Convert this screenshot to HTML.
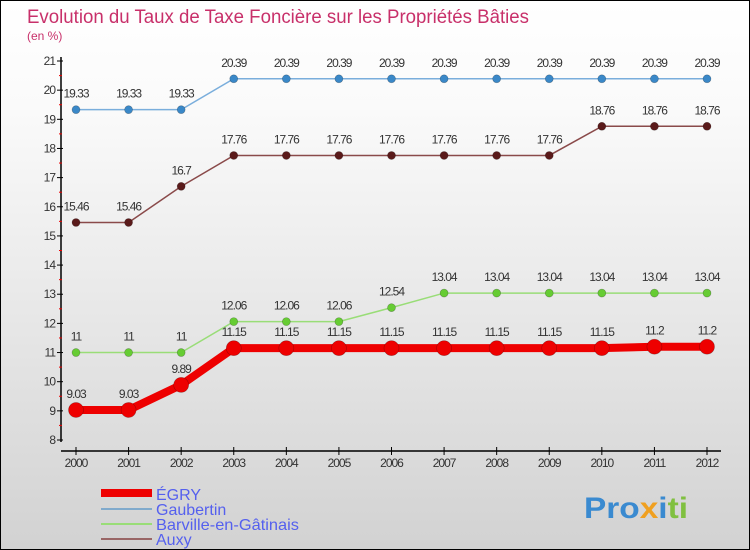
<!DOCTYPE html>
<html><head><meta charset="utf-8"><style>
body{margin:0}
#c{position:relative;width:748px;height:548px;border:1px solid #000;background:linear-gradient(#fff,#fafafa 20%,#d2d2d2);font-family:"Liberation Sans",sans-serif;overflow:hidden}
svg{position:absolute;left:0;top:0}
</style></head><body>
<div id="c">
<svg width="748" height="548" id="s">
<text x="26" y="22" font-size="19" fill="#c8306a" textLength="502" lengthAdjust="spacingAndGlyphs">Evolution du Taux de Taxe Foncière sur les Propriétés Bâties</text>
<text x="26" y="39" font-size="12" fill="#c8306a">(en %)</text>
<g id="ax"></g><g id="ser"></g>
<g>
<line x1="100" y1="492" x2="151" y2="492" stroke="#e00" stroke-width="8"/>
<text x="155" y="499" font-size="16" fill="#5560ee">ÉGRY</text>
<line x1="100" y1="508" x2="151" y2="508" stroke="#80aacc" stroke-width="2"/>
<text x="155" y="514" font-size="16" fill="#5560ee">Gaubertin</text>
<line x1="100" y1="523" x2="151" y2="523" stroke="#99dd77" stroke-width="2"/>
<text x="155" y="529" font-size="16" fill="#5560ee" textLength="143" lengthAdjust="spacingAndGlyphs">Barville-en-Gâtinais</text>
<line x1="100" y1="538" x2="151" y2="538" stroke="#996666" stroke-width="2"/>
<text x="155" y="544" font-size="16" fill="#5560ee">Auxy</text>
</g>
<text x="583" y="517" font-size="30" font-weight="bold" textLength="104" lengthAdjust="spacingAndGlyphs"><tspan fill="#3a8ad0">Pro</tspan><tspan fill="#f0a020">x</tspan><tspan fill="#3a8ad0">i</tspan><tspan fill="#80c040">ti</tspan></text>
</svg>
</div>
<script>
const years=[2000,2001,2002,2003,2004,2005,2006,2007,2008,2009,2010,2011,2012];
const egry=[9.03,9.03,9.89,11.15,11.15,11.15,11.15,11.15,11.15,11.15,11.15,11.2,11.2];
const gaubertin=[19.33,19.33,19.33,20.39,20.39,20.39,20.39,20.39,20.39,20.39,20.39,20.39,20.39];
const barville=[11,11,11,12.06,12.06,12.06,12.54,13.04,13.04,13.04,13.04,13.04,13.04];
const auxy=[15.46,15.46,16.7,17.76,17.76,17.76,17.76,17.76,17.76,17.76,18.76,18.76,18.76];
const yTicks=[8,9,10,11,12,13,14,15,16,17,18,19,20,21];
const NS="http://www.w3.org/2000/svg";
const X=i=>75+i*(706-75)/(years.length-1);
const Y=v=>439-(v-8)*(439-60)/13;
function mk(p,t,a){const e=document.createElementNS(NS,t);for(const k in a)e.setAttribute(k,a[k]);p.appendChild(e);return e;}
const ax=document.getElementById('ax'),ser=document.getElementById('ser');
let e=mk(ax,'line',{x1:60,y1:56,x2:60,y2:441,stroke:'#000','stroke-width':1.5});


e=mk(ax,'line',{x1:60,y1:450,x2:720,y2:450,stroke:'#000','stroke-width':1.5});


yTicks.forEach(v=>{
 mk(ax,'line',{x1:56,y1:Y(v),x2:62,y2:Y(v),stroke:'#000'});
 if(v<21)mk(ax,'line',{x1:58,y1:Y(v+0.5),x2:61,y2:Y(v+0.5),stroke:'#e00'});
 const t=mk(ax,'text',{x:54,y:Y(v)+4,'font-size':12,'text-anchor':'end',fill:'#333','letter-spacing':'-1'});
 t.textContent=v;
 
 
});
years.forEach((y,i)=>{
 mk(ax,'line',{x1:X(i),y1:446,x2:X(i),y2:454,stroke:'#000'});
 const t=mk(ax,'text',{x:X(i),y:466,'font-size':12,'text-anchor':'middle',fill:'#333','letter-spacing':'-1'});
 t.textContent=y;
 
 
});
function series(vals,name,col,dot,w,r){
 const g=mk(ser,'g',{});
 
 
 const pl=mk(g,'polyline',{points:vals.map((v,i)=>X(i)+','+Y(v)).join(' '),fill:'none',stroke:col,'stroke-width':w});
 
 
 vals.forEach((v,i)=>{
  const c=mk(g,'circle',{cx:X(i),cy:Y(v),r:r,fill:dot,stroke:'rgba(0,0,0,0.3)','stroke-width':0.6});
  
  
  const t=mk(g,'text',{x:X(i),y:Y(v)-12,'font-size':12,'text-anchor':'middle',fill:'#333','letter-spacing':'-1'});
  t.textContent=String(v);
  
  
 });
}
series(gaubertin,'gaubertin','#7aaedc','#3a88c8',1.5,4);
series(auxy,'auxy','#8a4a4a','#5a1a1a',1.5,4);
series(barville,'barville','#99dd77','#66cc33',1.5,4);
series(egry,'egry','#ee0000','#ee0000',8,7.5);
</script>
</body></html>
